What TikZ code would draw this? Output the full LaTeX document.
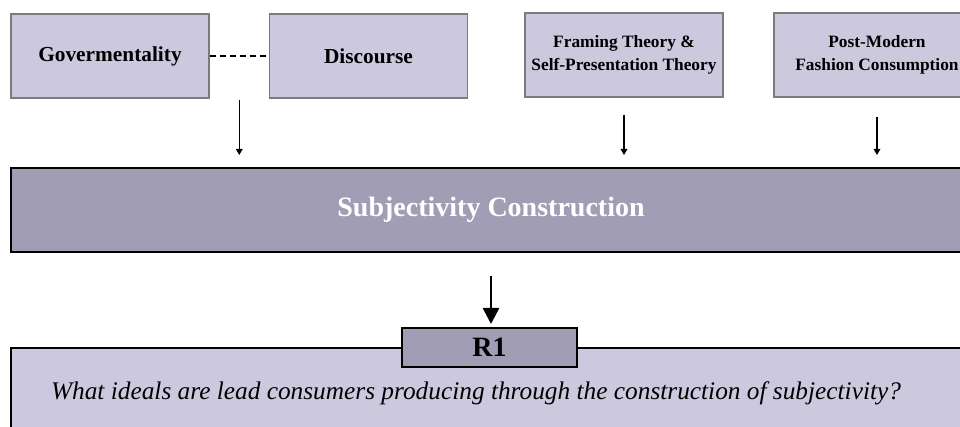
\documentclass[tikz,border=0pt]{standalone}
\usepackage{fontspec}
\setmainfont{Liberation Serif}
\usetikzlibrary{arrows.meta}
\definecolor{lavlight}{HTML}{CCC9DF}
\definecolor{lavdark}{HTML}{A19DB5}
\definecolor{boxedge}{HTML}{7B7B7B}

\begin{document}
\begin{tikzpicture}[x=0.75pt,y=0.75pt,yscale=-1,xscale=1,
  theory/.style={draw=boxedge,line width=0.9pt,fill=lavlight,minimum width=148.5pt,minimum height=63pt,inner sep=0pt,align=center,font=\fontsize{13}{17}\selectfont\bfseries},
  bigbox/.style={draw=black,line width=1.5pt,minimum width=720pt,inner sep=0pt},
  thinarrow/.style={line width=0.8pt,-{Triangle[width=5pt,length=4.5pt]},shorten >=9pt},
  bigarrow/.style={line width=2pt,-{Triangle[width=12pt,length=12pt]}},
  linkline/.style={line width=1.2pt,dash pattern=on 4.5pt off 3pt}]
      \useasboundingbox (0,0) rectangle (960,427);
      \clip (0,0) rectangle (960,427);

      % Shape: Rectangle
      \node [theory,font=\fontsize{16}{19}\selectfont\bfseries] (gov) at (110,56) {Govermentality};
      % Shape: Rectangle
      \node [theory,font=\fontsize{16}{19}\selectfont\bfseries] (disc) at (368.5,56) {Discourse};
      % Shape: Rectangle
      \node [theory] (fram) at (624,55) {Framing Theory \&\\Self-Presentation Theory};
      % Shape: Rectangle
      \node [theory,minimum width=154.5pt] (post) at (877,55) {Post-Modern\\Fashion Consumption};

      % Shape: Rectangle
      \node [bigbox,fill=lavdark,minimum height=63pt,text=white,font=\fontsize{21}{25}\selectfont\bfseries] (subj) at (491,210) {Subjectivity Construction};
      % Shape: Rectangle
      \node [bigbox,fill=lavlight,minimum height=67.5pt] (rq) at (491,393) {};
      % Shape: Rectangle
      \node [bigbox,fill=lavdark,minimum width=131.25pt,minimum height=29.25pt,font=\fontsize{21}{25}\selectfont\bfseries] (r1) at (489.5,347.5) {R1};
      % Text Node
      \node [inner sep=0pt,font=\fontsize{19}{23}\selectfont\itshape] (quest) at (476,393) {What ideals are lead consumers producing through the construction of subjectivity?};

      % Straight Lines
      \draw [linkline] (gov.east) -- coordinate (link) (disc.west);
      \draw [thinarrow,shorten <=33pt] (link) -- (link |- subj.north);
      \draw [thinarrow,shorten <=12.75pt] (fram.south) -- (fram.south |- subj.north);
      \draw [thinarrow,shorten <=14.25pt] (post.south) -- (post.south |- subj.north);
      \draw [bigarrow,shorten <=17pt,shorten >=2.25pt] (subj.south) -- (subj.south |- r1.north);
\end{tikzpicture}
\end{document}
